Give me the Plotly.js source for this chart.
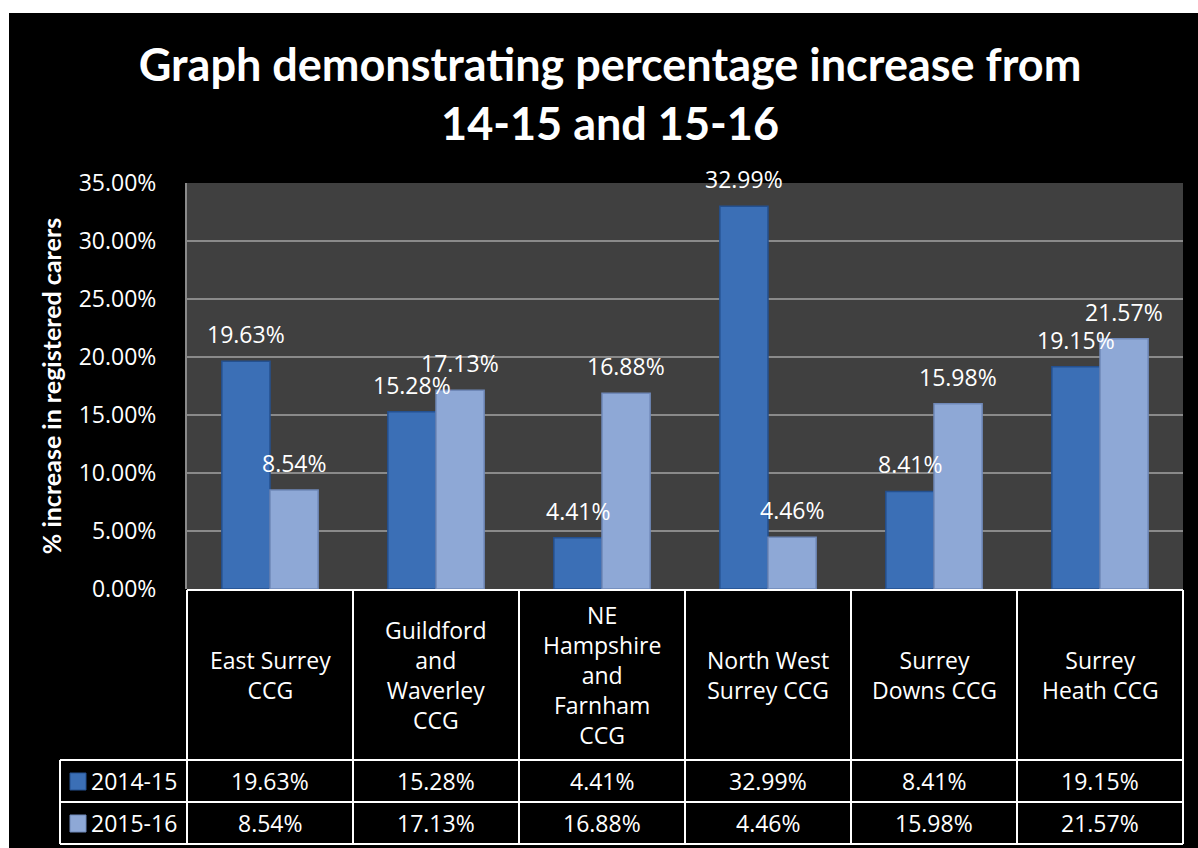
<!DOCTYPE html>
<html>
<head>
<meta charset="utf-8">
<script src="https://cdn.plot.ly/plotly-3.0.1.min.js"></script>
<style>
html,body{margin:0;padding:0;background:#ffffff;width:1198px;height:848px;overflow:hidden;}
#chart{position:absolute;left:9px;top:13px;width:1189px;height:835px;}
</style>
</head>
<body>
<div id="chart"></div>
<script>
// ---- data ----
const categories = ["East Surrey CCG","Guildford and Waverley CCG","NE Hampshire and Farnham CCG","North West Surrey CCG","Surrey Downs CCG","Surrey Heath CCG"];
const categoryLabels = ["East Surrey<br>CCG","Guildford<br>and<br>Waverley<br>CCG","NE<br>Hampshire<br>and<br>Farnham<br>CCG","North West<br>Surrey CCG","Surrey<br>Downs CCG","Surrey<br>Heath CCG"];
const seriesNames = ["2014-15","2015-16"];
const values2014 = [19.63, 15.28, 4.41, 32.99, 8.41, 19.15];
const values2015 = [8.54, 17.13, 16.88, 4.46, 15.98, 21.57];
const yTicks = [0,5,10,15,20,25,30,35];
const titleText = "Graph demonstrating percentage increase from<br>14-15 and 15-16";
const yTitle = "% increase in registered carers";

// ---- styling ----
const colors = ["#3b6fb6","#8ea8d6"];
const edgeColors = ["#24508f","#6f88b8"];
const FONT = "Open Sans, DejaVu Sans, sans-serif";
const BOLD = "Lato, Open Sans, sans-serif";
const fs = 23;

const series = [values2014, values2015];
const fmt = v => v.toFixed(2) + "%";

const traces = series.map((vals, i) => ({
  type: "bar",
  name: seriesNames[i],
  x: categories,
  y: vals,
  marker: {color: colors[i], line: {color: edgeColors[i], width: 1.5}},
  hoverinfo: "x+y",
  showlegend: false
}));

// geometry helpers (image px -> paper)
const PL = 187, PR = 1183, PT = 183, PB = 589;
const xp = px => (px - PL) / (PR - PL);
const yp = py => (PB - py) / (PB - PT);

const annotations = [];
const shapes = [];
const n = categories.length;
const colW = (PR - PL) / n;
const barHalf = 24; // px offset of each bar centre from category centre

// data labels above bars
series.forEach((vals, i) => {
  vals.forEach((v, j) => {
    annotations.push({
      x: categories[j], y: v, xref: "x", yref: "y",
      text: fmt(v), showarrow: false,
      xshift: (i === 0 ? -barHalf : barHalf), yshift: 27,
      xanchor: "center", yanchor: "middle",
      font: {family: FONT, size: fs, color: "#ffffff"}
    });
  });
});

// table header (category names)
categories.forEach((c, j) => {
  annotations.push({
    x: c, xref: "x", y: yp(675), yref: "paper",
    text: categoryLabels[j], showarrow: false,
    xanchor: "center", yanchor: "middle", align: "center",
    font: {family: FONT, size: fs, color: "#ffffff"}
  });
});

// table value rows + legend keys
const rowCentres = [781, 823];
series.forEach((vals, i) => {
  vals.forEach((v, j) => {
    annotations.push({
      x: categories[j], xref: "x", y: yp(rowCentres[i]), yref: "paper",
      text: fmt(v), showarrow: false, xanchor: "center", yanchor: "middle",
      font: {family: FONT, size: fs, color: "#ffffff"}
    });
  });
  annotations.push({
    x: xp(89), xref: "paper", y: yp(rowCentres[i]), yref: "paper",
    text: seriesNames[i], showarrow: false, xanchor: "left", yanchor: "middle",
    font: {family: FONT, size: fs, color: "#ffffff"}
  });
  shapes.push({
    type: "rect", xref: "paper", yref: "paper",
    x0: xp(70), x1: xp(86), y0: yp(rowCentres[i] - 8), y1: yp(rowCentres[i] + 9),
    fillcolor: colors[i], line: {color: edgeColors[i], width: 1}
  });
});

// table grid lines
const line = (x0, y0, x1, y1) => shapes.push({
  type: "line", xref: "paper", yref: "paper",
  x0: xp(x0), y0: yp(y0), x1: xp(x1), y1: yp(y1),
  line: {color: "#ffffff", width: 2}
});
line(PL, 590, PR, 590);
line(60, 760, PR, 760);
line(60, 802, PR, 802);
line(60, 844, PR, 844);
line(60, 760, 60, 844);
for (let k = 0; k <= n; k++) {
  const x = PL + k * colW;
  line(x, 590, x, 844);
}

const layout = {
  width: 1189, height: 835,
  paper_bgcolor: "#000000",
  plot_bgcolor: "#404040",
  margin: {l: 178, r: 15, t: 170, b: 259, pad: 0},
  barmode: "group",
  bargap: 0.42,
  bargroupgap: 0,
  title: {
    text: titleText,
    x: 0.5055, xanchor: "center",
    y: 0.918, yanchor: "middle", yref: "container",
    font: {family: BOLD, size: 45, color: "#ffffff", weight: 700}
  },
  xaxis: {
    showticklabels: false, showgrid: false, zeroline: false,
    showline: false, ticks: "", fixedrange: true
  },
  yaxis: {
    range: [0, 35],
    tickvals: yTicks,
    ticktext: yTicks.map(v => v.toFixed(2) + "%"),
    showgrid: true, gridcolor: "#8a8a8a", gridwidth: 2,
    zeroline: false,
    showline: true, linecolor: "#8a8a8a", linewidth: 2,
    ticks: "", ticklabelstandoff: 24,
    tickfont: {family: FONT, size: fs, color: "#ffffff"},
    title: {text: yTitle, standoff: 10,
            font: {family: BOLD, size: 25, color: "#ffffff", weight: 700}},
    fixedrange: true
  },
  annotations: annotations,
  shapes: shapes
};

Plotly.newPlot("chart", traces, layout, {displayModeBar: false, staticPlot: true});
</script>
</body>
</html>
